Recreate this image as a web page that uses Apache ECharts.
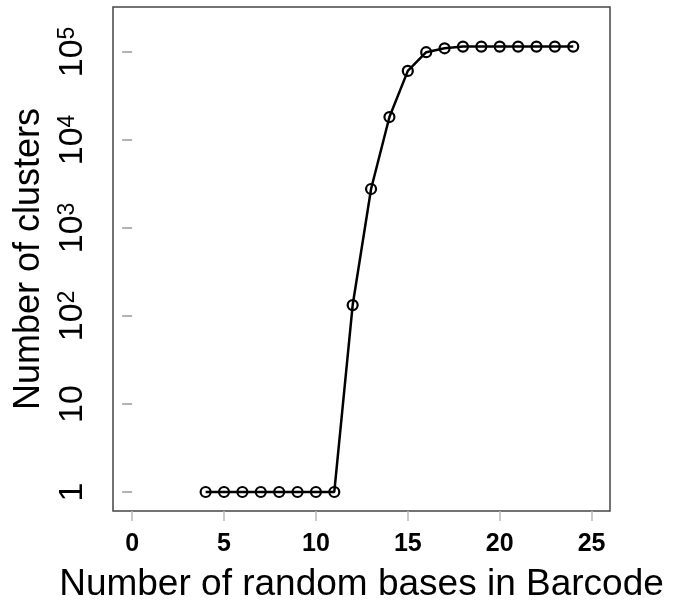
<!DOCTYPE html>
<html>
<head>
<meta charset="utf-8">
<script src="https://cdn.jsdelivr.net/npm/echarts@6/dist/echarts.min.js"></script>
<style>
html,body{margin:0;padding:0;background:#fff;}
#chart{width:674px;height:606px;}
</style>
</head>
<body>
<div id="chart"></div>
<script>
// Data
const randomBases = [4,5,6,7,8,9,10,11,12,13,14,15,16,17,18,19,20,21,22,23,24];
const clusters = [1,1,1,1,1,1,1,1,133,2770,18200,60900,99300,110000,115000,115000,115000,115000,115000,115000,115000];
const xTicks = [0,5,10,15,20,25];
const yTicks = [1,10,100,1000,10000,100000];
const xTitle = 'Number of random bases in Barcode';
const yTitle = 'Number of clusters';

const FONT = '"Liberation Sans", Arial, Helvetica, sans-serif';
const chart = echarts.init(document.getElementById('chart'), null, {renderer:'canvas'});

function yFmt(v){
  const e = Math.round(Math.log10(v));
  if (e === 0) return '{b|1}';
  if (e === 1) return '{b|10}';
  return '{b|10}{s|' + e + '}';
}

chart.setOption({
  backgroundColor:'#fff',
  animation:false,
  grid:{left:113, top:7, right:64, bottom:95, show:true, borderColor:'#444', borderWidth:1.5,
        containLabel:false, outerBoundsMode:'none'},
  xAxis:{
    type:'value', min:-1.04, max:26,
    name:xTitle, nameLocation:'middle', nameGap:55,
    nameTextStyle:{fontFamily:FONT, fontSize:37, color:'#000'},
    axisLine:{show:false},
    splitLine:{show:false},
    axisTick:{show:true, customValues:xTicks, length:10, lineStyle:{color:'#bbb', width:1.5}},
    axisLabel:{customValues:xTicks, margin:21, fontFamily:FONT, fontSize:25, fontWeight:'bold', color:'#000'}
  },
  yAxis:{
    type:'log', logBase:10, min:0.608, max:324000,
    name:yTitle, nameLocation:'middle', nameGap:66, nameRotate:90,
    nameTextStyle:{fontFamily:FONT, fontSize:36, color:'#000'},
    axisLine:{show:false},
    splitLine:{show:false},
    axisTick:{show:true, customValues:yTicks, length:10, lineStyle:{color:'#999', width:1.5}},
    axisLabel:{
      customValues:yTicks, rotate:90, margin:23,
      formatter:yFmt,
      color:'#000',
      rich:{
        b:{fontFamily:FONT, fontSize:34, lineHeight:34, verticalAlign:'bottom', color:'#000'},
        s:{fontFamily:FONT, fontSize:23, lineHeight:23, verticalAlign:'top', padding:[0,0,21,0], color:'#000'}
      }
    }
  },
  series:[{
    type:'line',
    data:randomBases.map((x,i)=>[x, clusters[i]]),
    symbol:'circle', symbolSize:10,
    lineStyle:{color:'#000', width:2.5},
    itemStyle:{color:'rgba(0,0,0,0)', borderColor:'#000', borderWidth:2.2},
    z:3
  }]
});
</script>
</body>
</html>
